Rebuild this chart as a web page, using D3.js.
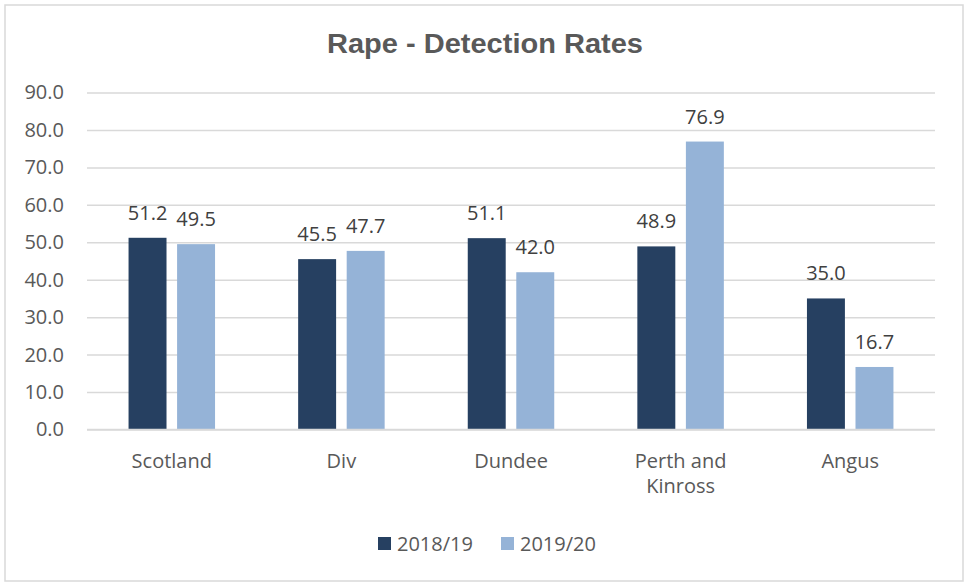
<!DOCTYPE html>
<html><head><meta charset="utf-8">
<script src="https://cdn.jsdelivr.net/npm/d3@7"></script>
<style>body{margin:0;background:#fff}svg{display:block}</style>
</head><body>
<script>
const categories = ["Scotland", "Div", "Dundee", "Perth and Kinross", "Angus"];
const seriesNames = ["2018/19", "2019/20"];
const values2018 = [51.2, 45.5, 51.1, 48.9, 35.0];
const values2019 = [49.5, 47.7, 42.0, 76.9, 16.7];
const yTicks = [0, 10, 20, 30, 40, 50, 60, 70, 80, 90];
const colors = ["#264061", "#95b3d7"];

(function () {
const W = 965, H = 585;
const svg = d3.select("body").append("svg").attr("width", W).attr("height", H);
svg.append("rect").attr("x", 5).attr("y", 5).attr("width", 958).attr("height", 576)
  .attr("fill", "#fff").attr("stroke", "#d9d9d9").attr("stroke-width", 1.5);

svg.append("text").attr("x", 485).attr("y", 53).attr("text-anchor", "middle")
  .attr("font-family", "Liberation Sans, Arial, sans-serif").attr("font-weight", "bold")
  .attr("font-size", 27.5).attr("fill", "#595959")
  .attr("textLength", 316).attr("lengthAdjust", "spacingAndGlyphs")
  .text("Rape - Detection Rates");

const pLeft = 87, pRight = 935, pTop = 92.5, pBottom = 429.5;
const y = d3.scaleLinear().domain([0, 90]).range([pBottom, pTop]);
const x0 = d3.scaleBand().domain(categories).range([pLeft, pRight]).paddingInner(0.49).paddingOuter(0.245);
const x1 = d3.scaleBand().domain([0, 1]).range([0, x0.bandwidth()]).paddingInner(0.218).paddingOuter(0);

const font = "Open Sans, sans-serif";
const fs = 20;
const yAxis = d3.axisLeft(y).tickValues(yTicks).tickFormat(d3.format(".1f")).tickSize(-(pRight - pLeft)).tickPadding(23);
const gy = svg.append("g").attr("transform", `translate(${pLeft},0)`).call(yAxis);
gy.select(".domain").remove();
gy.selectAll(".tick line").attr("stroke", "#d9d9d9").attr("stroke-width", 1.5);
gy.selectAll(".tick text").attr("font-family", font).attr("font-size", fs).attr("fill", "#595959");

const data = categories.map((c, i) => ({ c, v: [values2018[i], values2019[i]] }));
const groups = svg.append("g").selectAll("g").data(data).join("g")
  .attr("transform", d => `translate(${x0(d.c)},0)`);
groups.selectAll("rect").data(d => d.v.map((v, k) => ({ v, k }))).join("rect")
  .attr("x", d => x1(d.k)).attr("width", x1.bandwidth())
  .attr("y", d => y(d.v)).attr("height", d => y(0) - y(d.v))
  .attr("fill", d => colors[d.k]);
groups.selectAll("text.lbl").data(d => d.v.map((v, k) => ({ v, k }))).join("text")
  .attr("class", "lbl")
  .attr("x", d => x1(d.k) + x1.bandwidth() / 2).attr("y", d => y(d.v) - 18)
  .attr("text-anchor", "middle").attr("font-family", font).attr("font-size", fs)
  .attr("fill", "#404040").text(d => d3.format(".1f")(d.v));

svg.append("line").attr("x1", pLeft).attr("x2", pRight).attr("y1", pBottom).attr("y2", pBottom)
  .attr("stroke", "#d9d9d9").attr("stroke-width", 1.5);

const wrap = { "Perth and Kinross": ["Perth and", "Kinross"] };
categories.forEach(c => {
  const lines = wrap[c] || [c];
  const t = svg.append("text").attr("text-anchor", "middle").attr("font-family", font)
    .attr("font-size", fs).attr("fill", "#595959");
  lines.forEach((l, i) => t.append("tspan").attr("x", x0(c) + x0.bandwidth() / 2)
    .attr("y", 468 + i * 25).text(l));
});

const legX = [378, 501];
seriesNames.forEach((s, i) => {
  svg.append("rect").attr("x", legX[i]).attr("y", 537).attr("width", 13).attr("height", 13).attr("fill", colors[i]);
  svg.append("text").attr("x", legX[i] + 19).attr("y", 551).attr("font-family", font)
    .attr("font-size", fs).attr("fill", "#595959").text(s);
});
})();
</script>
</body></html>
